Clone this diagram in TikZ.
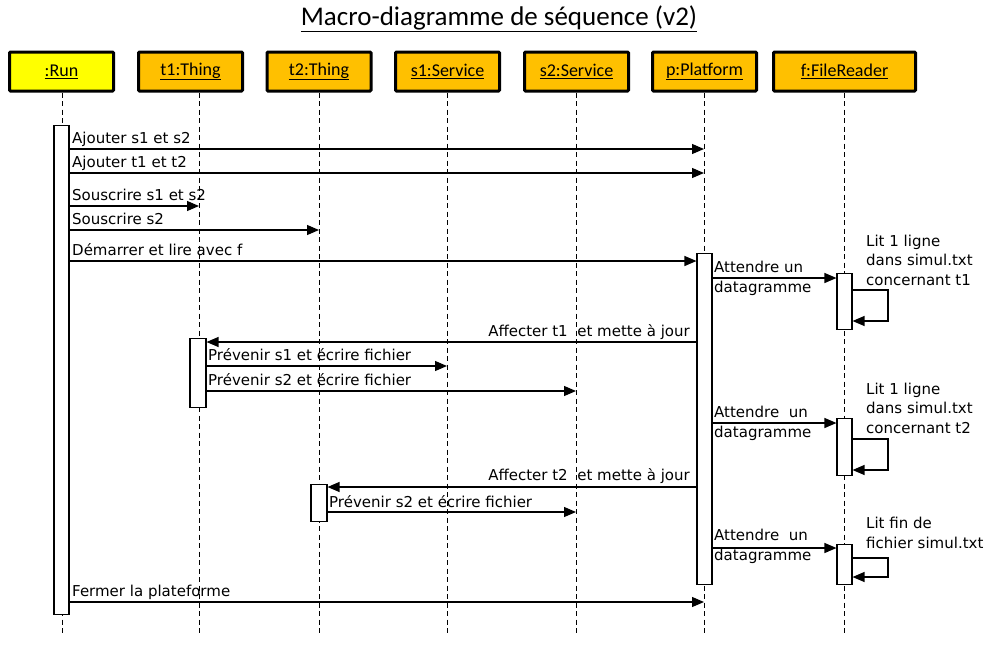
\documentclass[tikz,border=0pt]{standalone}
\usepackage{fontspec}
\setmainfont{Carlito}
\newfontfamily\msgfont{DejaVu Sans}
\usetikzlibrary{arrows.meta}
\definecolor{runyellow}{HTML}{FFFF00}
\definecolor{objorange}{HTML}{FFC000}
\begin{document}
\begin{tikzpicture}[x=1pt,y=-1pt,
  hdr/.style={draw, line width=3pt, minimum height=39pt, minimum width=104pt, inner sep=0pt, rounded corners=1pt, font=\fontsize{18}{20}\selectfont, fill=objorange},
  lifeline/.style={dash pattern=on 5pt off 3.5pt, line width=0.9pt},
  act/.style={draw, fill=white, line width=1.1pt, minimum width=15pt, inner sep=0pt, anchor=north},
  msg/.style={line width=1.2pt, -{Triangle[length=12pt,width=10pt]}},
  lbl/.style={font=\msgfont\fontsize{15}{19.5}\selectfont, inner sep=0pt},
  note/.style={lbl, align=left, anchor=base west},
]
\useasboundingbox (0,0) rectangle (990,645);
\fill[white] (0,0) rectangle (990,645);

% title
\node[anchor=base, font=\fontsize{27}{30}\selectfont, inner sep=0pt] (title) at (499,25) {\underline{Macro-diagramme de séquence (v2)}};

% header boxes
\node[hdr, fill=runyellow] (run) at (61.5,71.5) {\underline{:Run}};
\node[hdr] (t1) at (190.5,71.5) {\underline{t1:Thing}};
\node[hdr] (t2) at (319,71.5) {\underline{t2:Thing}};
\node[hdr] (s1) at (447.5,71.5) {\underline{s1:Service}};
\node[hdr] (s2) at (576.5,71.5) {\underline{s2:Service}};
\node[hdr] (p) at (704.5,71.5) {\underline{p:Platform}};
\node[hdr, minimum width=142pt] (f) at (844.5,71.5) {\underline{f:FileReader}};

% lifeline x positions
\coordinate (Lrun) at (62,0);
\coordinate (Lt1) at (199,0);
\coordinate (Lt2) at (319,0);
\coordinate (Ls1) at (447,0);
\coordinate (Ls2) at (576,0);
\coordinate (Lp) at (704,0);
\coordinate (Lf) at (844,0);
\coordinate (bottom) at (0,635);

\foreach \o/\l in {run/Lrun,t1/Lt1,t2/Lt2,s1/Ls1,s2/Ls2,p/Lp,f/Lf}{
  \draw[lifeline] (\l |- \o.south) -- (\l |- bottom);
}

% activations
\node[act, minimum height=489pt] (runA) at (61.5,125) {};
\node[act, minimum height=69pt, minimum width=16pt] (t1A) at (198,338) {};
\node[act, minimum height=37pt, minimum width=16pt] (t2A) at (319,484) {};
\node[act, minimum height=331pt] (pA) at (704.5,253) {};
\node[act, minimum height=56pt] (f1A) at (844.5,273) {};
\node[act, minimum height=57pt] (f2A) at (844.5,418) {};
\node[act, minimum height=40pt] (f3A) at (844.5,544) {};

% messages from Run
\draw[msg] (runA.east |- 0,149) -- (Lp |- 0,149);
\node[lbl, anchor=base west] (m1) at (72,143) {Ajouter s1 et s2};
\draw[msg] (runA.east |- 0,173) -- (Lp |- 0,173);
\node[lbl, anchor=base west] (m2) at (72,167) {Ajouter t1 et t2};
\draw[msg] (runA.east |- 0,206) -- (Lt1 |- 0,206);
\node[lbl, anchor=base west] (m3) at (72,200) {Souscrire s1 et s2};
\draw[msg] (runA.east |- 0,230) -- (Lt2 |- 0,230);
\node[lbl, anchor=base west] (m4) at (72,224) {Souscrire s2};
\draw[msg] (runA.east |- 0,261) -- (pA.west |- 0,261);
\node[lbl, anchor=base west] (m5) at (72,255) {Démarrer et lire avec f};

% first datagram
\draw[msg] (pA.east |- 0,278) -- (f1A.west |- 0,278);
\node[note] (m6) at (714,292) {Attendre un\\datagramme};
\draw[msg] (f1A.east |- 0,290) -- (888,290) -- (888,321) -- (f1A.east |- 0,321);
\node[note] (n1) at (866,285) {Lit 1 ligne\\dans simul.txt\\concernant t1};

\draw[msg] (pA.west |- 0,342) -- (t1A.east |- 0,342);
\node[lbl, anchor=base east] (m7) at (690,336) {Affecter t1\ \ et mette à jour};
\draw[msg] (t1A.east |- 0,366) -- (Ls1 |- 0,366);
\node[lbl, anchor=base west] (m8) at (208,360) {Prévenir s1 et écrire fichier};
\draw[msg] (t1A.east |- 0,391) -- (Ls2 |- 0,391);
\node[lbl, anchor=base west] (m9) at (208,385) {Prévenir s2 et écrire fichier};

% second datagram
\draw[msg] (pA.east |- 0,423) -- (f2A.west |- 0,423);
\node[note] (m10) at (714,437) {Attendre\ \ un\\datagramme};
\draw[msg] (f2A.east |- 0,439) -- (888,439) -- (888,470) -- (f2A.east |- 0,470);
\node[note] (n2) at (866,433) {Lit 1 ligne\\dans simul.txt\\concernant t2};

\draw[msg] (pA.west |- 0,487) -- (t2A.east |- 0,487);
\node[lbl, anchor=base east] (m11) at (690,480) {Affecter t2\ \ et mette à jour};
\draw[msg] (t2A.east |- 0,512) -- (Ls2 |- 0,512);
\node[lbl, anchor=base west] (m12) at (329,507) {Prévenir s2 et écrire fichier};

% third datagram
\draw[msg] (pA.east |- 0,548) -- (f3A.west |- 0,548);
\node[note] (m13) at (714,560) {Attendre\ \ un\\datagramme};
\draw[msg] (f3A.east |- 0,558) -- (888,558) -- (888,577) -- (f3A.east |- 0,577);
\node[note] (n3) at (866,548) {Lit fin de\\fichier simul.txt};

% close
\draw[msg] (runA.east |- 0,602) -- (Lp |- 0,602);
\node[lbl, anchor=base west] (m14) at (72,596) {Fermer la plateforme};
\end{tikzpicture}
\end{document}
